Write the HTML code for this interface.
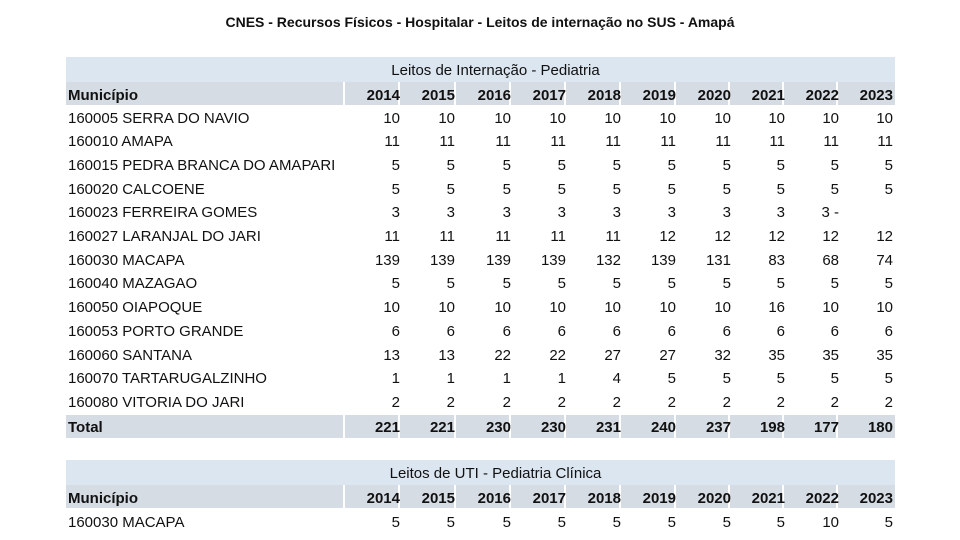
<!DOCTYPE html>
<html><head><meta charset="utf-8"><style>
body{margin:0;width:960px;height:540px;background:#fff;font-family:"Liberation Sans",sans-serif;color:#111;position:relative;overflow:hidden}
.a{position:absolute;white-space:nowrap;font-size:15px;line-height:20px}
.band{position:absolute;left:66px;width:829px}
.r{text-align:right;width:50px}
.b{font-weight:bold}
.sep{position:absolute;width:2px;background:#fff}
</style></head><body>
<div class="a b" style="left:0;width:960px;text-align:center;top:12px;font-size:14px">CNES - Recursos Físicos - Hospitalar - Leitos de internação no SUS - Amapá</div>
<div id="c"></div>
<script>
const cols=[400,455,511,566,621,676,731,785,839,893];
const years=[2014,2015,2016,2017,2018,2019,2020,2021,2022,2023];
let h='';
function row(y,label,vals,bold){
 y+=1.5;
 h+=`<div class="a${bold?' b':''}" style="left:68px;top:${y-10}px">${label}</div>`;
 vals.forEach((v,i)=>{h+=`<div class="a r${bold?' b':''}" style="left:${cols[i]-50}px;top:${y-10}px">${v}</div>`});
}
function hdr(top,title){
 h+=`<div class="band" style="top:${top}px;height:25px;background:#dce6f1"></div>`;
 h+=`<div class="band" style="top:${top+25}px;height:23px;background:#d6dce4"></div>`;
 cols.forEach(c=>{h+=`<div class="sep" style="left:${c-57}px;top:${top+25}px;height:23px"></div>`});
 h+=`<div class="a" style="left:66px;width:829px;text-align:center;top:${top+4}px;padding-left:30px;box-sizing:border-box">${title}</div>`;
 row(top+37,'Município',years,true);
}
hdr(57,'Leitos de Internação - Pediatria');
const data=[
['160005 SERRA DO NAVIO',[10,10,10,10,10,10,10,10,10,10]],
['160010 AMAPA',[11,11,11,11,11,11,11,11,11,11]],
['160015 PEDRA BRANCA DO AMAPARI',[5,5,5,5,5,5,5,5,5,5]],
['160020 CALCOENE',[5,5,5,5,5,5,5,5,5,5]],
['160023 FERREIRA GOMES',[3,3,3,3,3,3,3,3,'3 -','']],
['160027 LARANJAL DO JARI',[11,11,11,11,11,12,12,12,12,12]],
['160030 MACAPA',[139,139,139,139,132,139,131,83,68,74]],
['160040 MAZAGAO',[5,5,5,5,5,5,5,5,5,5]],
['160050 OIAPOQUE',[10,10,10,10,10,10,10,16,10,10]],
['160053 PORTO GRANDE',[6,6,6,6,6,6,6,6,6,6]],
['160060 SANTANA',[13,13,22,22,27,27,32,35,35,35]],
['160070 TARTARUGALZINHO',[1,1,1,1,4,5,5,5,5,5]],
['160080 VITORIA DO JARI',[2,2,2,2,2,2,2,2,2,2]]];
data.forEach((d,i)=>{row(117+23.7*i,d[0],d[1],false)});
h+=`<div class="band" style="top:415px;height:23px;background:#d6dce4"></div>`;
cols.forEach(c=>{h+=`<div class="sep" style="left:${c-57}px;top:415px;height:23px"></div>`});
row(426,'Total',[221,221,230,230,231,240,237,198,177,180],true);
hdr(460,'Leitos de UTI - Pediatria Clínica');
row(521,'160030 MACAPA',[5,5,5,5,5,5,5,5,10,5],false);
document.getElementById('c').innerHTML=h;
</script>
</body></html>
